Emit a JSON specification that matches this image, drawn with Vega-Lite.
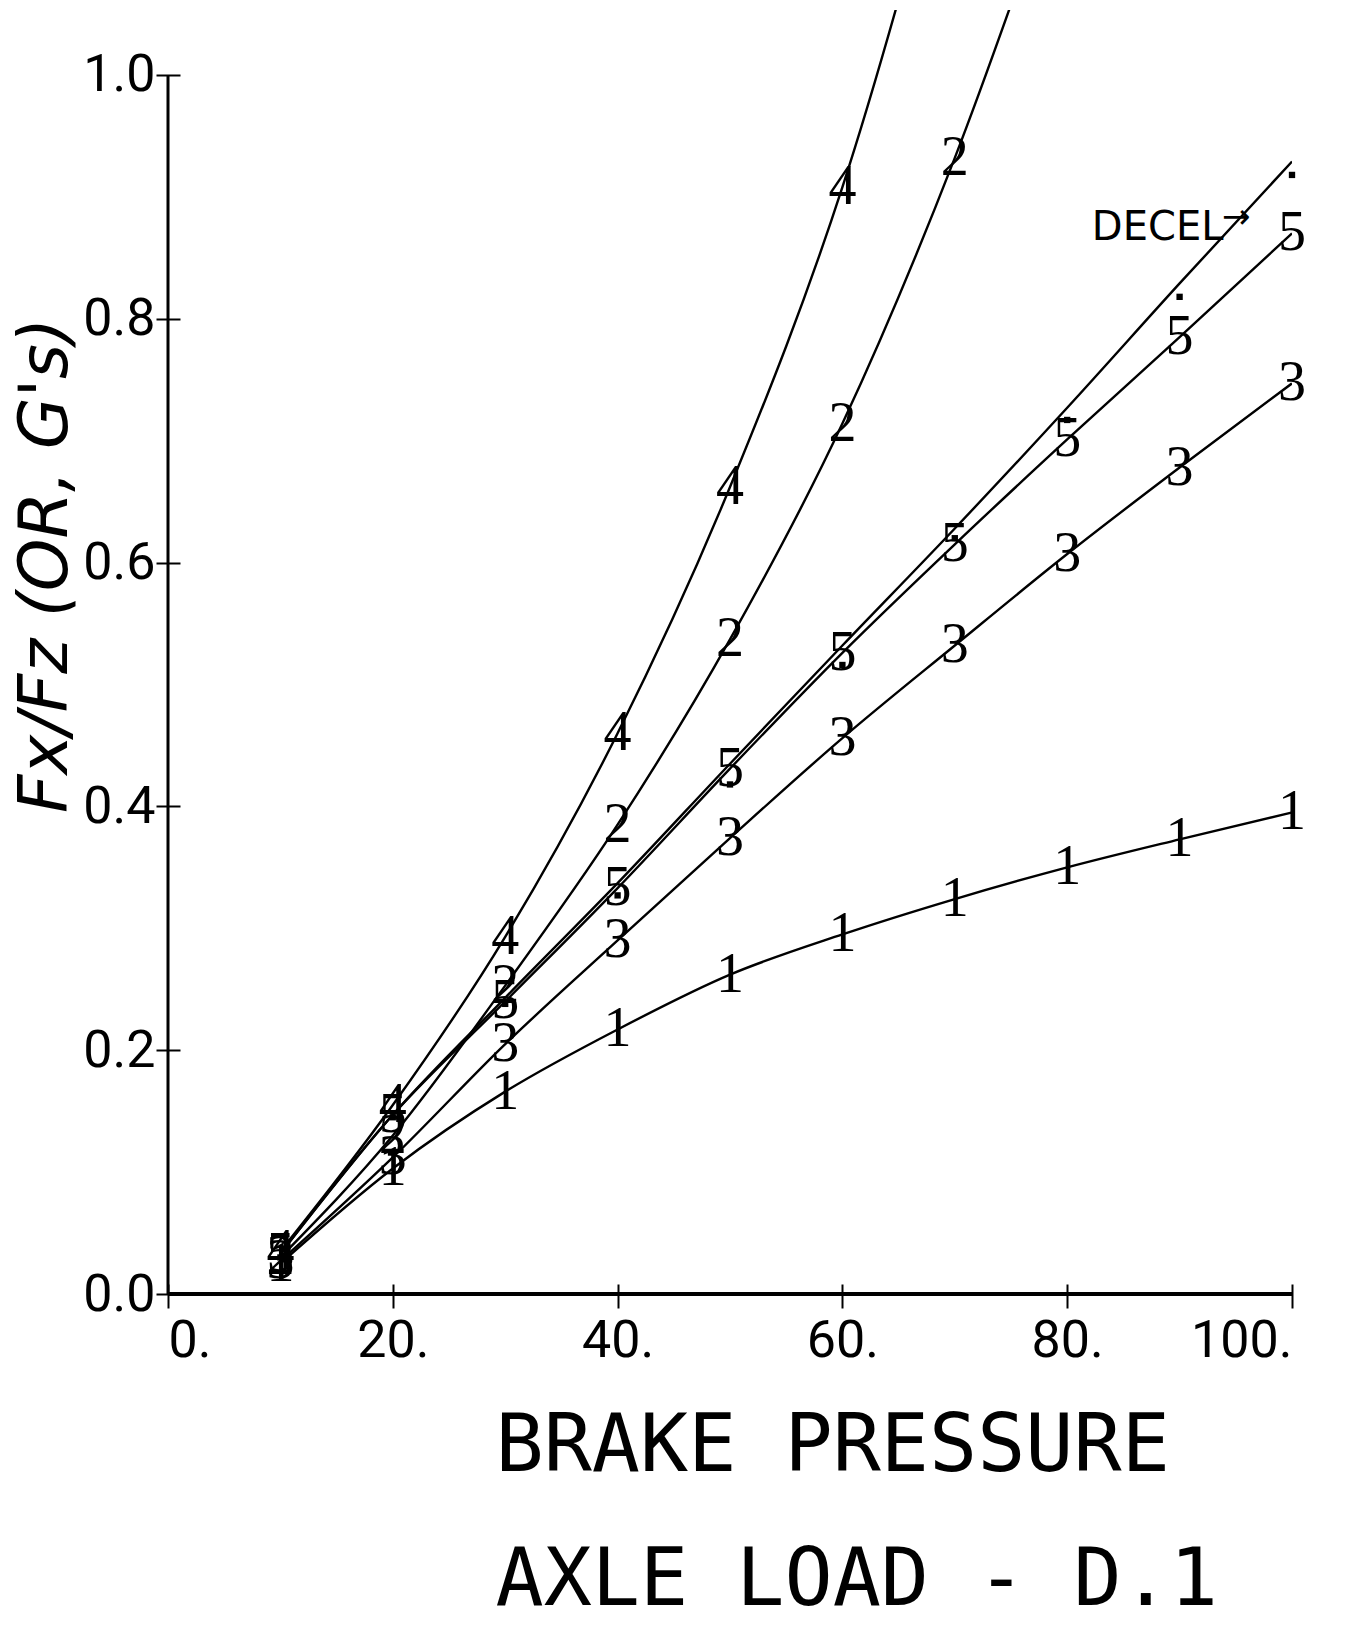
{
  "$schema": "https://vega.github.io/schema/vega-lite/v6.json",
  "width": 1124,
  "height": 1284,
  "autosize": {"type": "none"},
  "padding": {"left": 168, "top": 10, "right": 78, "bottom": 331},
  "background": "white",
  "config": {
    "view": {"stroke": null},
    "axis": {
      "grid": false,
      "domain": false,
      "tickColor": "black",
      "tickWidth": 2,
      "labelColor": "black",
      "titleColor": "black",
      "labelFont": "Roboto",
      "labelFontWeight": "normal",
      "labelFontSize": 52
    }
  },
  "datasets": {
    "curves": [
      {"s": "1", "p": 10, "f": 0.025}, {"s": "1", "p": 20, "f": 0.103}, {"s": "1", "p": 30, "f": 0.166}, {"s": "1", "p": 40, "f": 0.217}, {"s": "1", "p": 50, "f": 0.262},
      {"s": "1", "p": 60, "f": 0.295}, {"s": "1", "p": 70, "f": 0.324}, {"s": "1", "p": 80, "f": 0.350}, {"s": "1", "p": 90, "f": 0.373}, {"s": "1", "p": 100, "f": 0.395},
      {"s": "2", "p": 10, "f": 0.030}, {"s": "2", "p": 20, "f": 0.130}, {"s": "2", "p": 30, "f": 0.253}, {"s": "2", "p": 40, "f": 0.385}, {"s": "2", "p": 50, "f": 0.537},
      {"s": "2", "p": 60, "f": 0.714}, {"s": "2", "p": 70, "f": 0.932}, {"s": "2", "p": 80, "f": 1.19},
      {"s": "3", "p": 10, "f": 0.027}, {"s": "3", "p": 20, "f": 0.112}, {"s": "3", "p": 30, "f": 0.205}, {"s": "3", "p": 40, "f": 0.290}, {"s": "3", "p": 50, "f": 0.374},
      {"s": "3", "p": 60, "f": 0.456}, {"s": "3", "p": 70, "f": 0.532}, {"s": "3", "p": 80, "f": 0.607}, {"s": "3", "p": 90, "f": 0.678}, {"s": "3", "p": 100, "f": 0.747},
      {"s": "4", "p": 10, "f": 0.035}, {"s": "4", "p": 20, "f": 0.155}, {"s": "4", "p": 30, "f": 0.293}, {"s": "4", "p": 40, "f": 0.460}, {"s": "4", "p": 50, "f": 0.662},
      {"s": "4", "p": 60, "f": 0.908}, {"s": "4", "p": 70, "f": 1.23},
      {"s": "5", "p": 10, "f": 0.033}, {"s": "5", "p": 20, "f": 0.147}, {"s": "5", "p": 30, "f": 0.240}, {"s": "5", "p": 40, "f": 0.333}, {"s": "5", "p": 50, "f": 0.431},
      {"s": "5", "p": 60, "f": 0.526}, {"s": "5", "p": 70, "f": 0.615}, {"s": "5", "p": 80, "f": 0.701}, {"s": "5", "p": 90, "f": 0.785}, {"s": "5", "p": 100, "f": 0.870},
      {"s": "DECEL", "p": 10, "f": 0.033}, {"s": "DECEL", "p": 20, "f": 0.147}, {"s": "DECEL", "p": 30, "f": 0.243}, {"s": "DECEL", "p": 40, "f": 0.337}, {"s": "DECEL", "p": 50, "f": 0.435},
      {"s": "DECEL", "p": 60, "f": 0.532}, {"s": "DECEL", "p": 70, "f": 0.628}, {"s": "DECEL", "p": 80, "f": 0.727}, {"s": "DECEL", "p": 90, "f": 0.829}, {"s": "DECEL", "p": 100, "f": 0.929}
    ],
    "dots": [
      {"p": 10, "f": 0.030}, {"p": 20, "f": 0.145}, {"p": 30, "f": 0.238}, {"p": 40, "f": 0.327}, {"p": 50, "f": 0.418},
      {"p": 60, "f": 0.516}, {"p": 70, "f": 0.620}, {"p": 80, "f": 0.717}, {"p": 90, "f": 0.818}, {"p": 100, "f": 0.918}
    ]
  },
  "layer": [
    {
      "data": {"values": [{}]},
      "mark": {"type": "rule", "color": "black", "strokeWidth": 4},
      "encoding": {"y": {"datum": 0}, "x": {"datum": 0}, "x2": {"datum": 100}}
    },
    {
      "data": {"values": [{}]},
      "mark": {"type": "rule", "color": "black", "strokeWidth": 3},
      "encoding": {"x": {"datum": 0}, "y": {"datum": 0}, "y2": {"datum": 1}}
    },
    {
      "data": {"name": "curves"},
      "mark": {"type": "line", "color": "black", "strokeWidth": 2.4, "interpolate": "monotone", "clip": true},
      "encoding": {
        "x": {
          "field": "p", "type": "quantitative",
          "scale": {"domain": [0, 100], "nice": false, "zero": false},
          "axis": {
            "values": [0, 20, 40, 60, 80, 100],
            "labelExpr": "datum.value + '.'",
            "offset": -10, "tickSize": 24, "labelPadding": 7,
            "title": ["BRAKE PRESSURE", "AXLE LOAD - D.1"],
            "titleFont": "DejaVu Sans Mono", "titleFontSize": 80, "titleFontWeight": "normal",
            "titleLineHeight": 134, "titleAlign": "left", "titleBaseline": "alphabetic",
            "titleX": 327, "titleY": 186
          }
        },
        "y": {
          "field": "f", "type": "quantitative",
          "scale": {"domain": [0, 1.0533], "nice": false},
          "axis": {
            "values": [0, 0.2, 0.4, 0.6, 0.8, 1.0],
            "format": ".1f",
            "offset": -12, "tickSize": 24, "labelPadding": 1,
            "title": "Fx/Fz   (OR, G's)",
            "titleFont": "DejaVu Sans", "titleFontStyle": "italic", "titleFontSize": 67, "titleFontWeight": "normal",
            "titleAngle": -90, "titleAlign": "center", "titleBaseline": "middle",
            "titleX": -134, "titleY": 555
          }
        },
        "detail": {"field": "s"}
      }
    },
    {
      "data": {"name": "curves"},
      "transform": [{"filter": "datum.s != 'DECEL' && datum.f <= 1.05"}],
      "mark": {"type": "text", "font": "Liberation Serif", "fontSize": 56, "color": "black", "align": "center", "baseline": "middle"},
      "encoding": {
        "x": {"field": "p", "type": "quantitative"},
        "y": {"field": "f", "type": "quantitative"},
        "text": {"field": "s"}
      }
    },
    {
      "data": {"name": "dots"},
      "mark": {"type": "point", "filled": true, "shape": "square", "color": "black", "size": 40, "opacity": 1},
      "encoding": {
        "x": {"field": "p", "type": "quantitative"},
        "y": {"field": "f", "type": "quantitative"}
      }
    },
    {
      "data": {"values": [{}]},
      "mark": {"type": "text", "text": "DECEL", "font": "DejaVu Sans", "fontSize": 40, "color": "black", "align": "right", "baseline": "alphabetic"},
      "encoding": {"x": {"datum": 93.9}, "y": {"datum": 0.865}}
    },
    {
      "data": {"values": [{}]},
      "mark": {"type": "text", "text": "→", "font": "DejaVu Sans", "fontSize": 34, "color": "black", "align": "right", "baseline": "middle"},
      "encoding": {"x": {"datum": 96.3}, "y": {"datum": 0.883}}
    }
  ]
}
